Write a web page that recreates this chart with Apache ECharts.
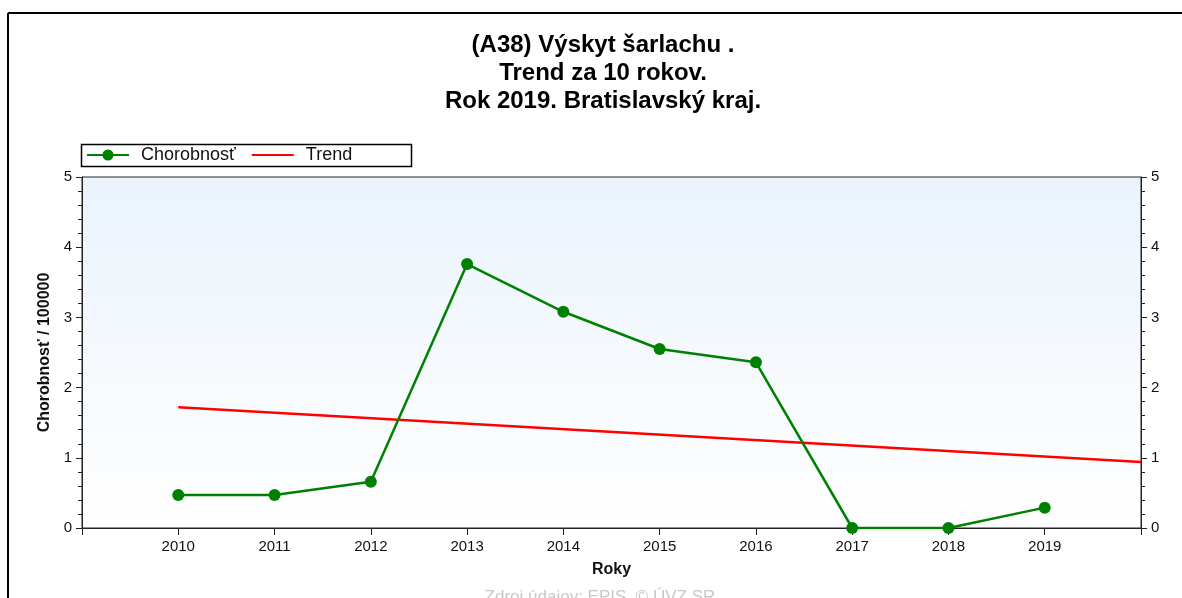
<!DOCTYPE html>
<html lang="sk">
<head>
    <meta charset="UTF-8">
    <title>Výskyt šarlachu</title>
    <style type="text/css">
        html, body { margin: 0; padding: 0; background: #fff; }
        #main { width: 1182px; height: 598px; }
    </style>
    <script src="https://cdn.jsdelivr.net/npm/echarts@6/dist/echarts.min.js"></script>
</head>
<body>
    <div id="main"></div>
    <script type="text/javascript">
        // data
        var titleLines = ['(A38) Výskyt šarlachu .', 'Trend za 10 rokov.', 'Rok 2019. Bratislavský kraj.'];
        var years = [2010, 2011, 2012, 2013, 2014, 2015, 2016, 2017, 2018, 2019];
        var chorobnost = [0.47, 0.47, 0.66, 3.76, 3.08, 2.55, 2.36, 0, 0, 0.29];
        var trendYears = [2010, 2020];
        var trendValues = [1.72, 0.94];
        var source = 'Zdroj údajov: EPIS, © ÚVZ SR';

        var font = '"Liberation Sans", Arial, sans-serif';
        var axisCol = '#222';

        var myChart = echarts.init(document.getElementById('main'));

        var yAxisBase = {
            type: 'value',
            min: 0,
            max: 5,
            interval: 1,
            axisLine: { show: true, lineStyle: { color: axisCol } },
            axisTick: { show: true, length: 6, lineStyle: { color: axisCol } },
            minorTick: { show: true, splitNumber: 5, length: 4, lineStyle: { color: axisCol } },
            splitLine: { show: false },
            axisLabel: { color: '#111', fontFamily: font, fontSize: 15, margin: 10 }
        };

        var option = {
            animation: false,
            grid: {
                left: 82, right: 41, top: 177, bottom: 70,
                show: true,
                borderColor: axisCol,
                borderWidth: 1,
                backgroundColor: {
                    type: 'linear', x: 0, y: 0, x2: 0, y2: 1,
                    colorStops: [
                        { offset: 0, color: '#eaf3fc' },
                        { offset: 1, color: '#ffffff' }
                    ]
                }
            },
            legend: {
                left: 81,
                top: 146,
                padding: [0, 5],
                itemWidth: 42,
                itemHeight: 14,
                itemGap: 15,
                textStyle: { color: '#111', fontFamily: font, fontSize: 18, padding: [0, 0, 0, 7] },
                data: [
                    { name: 'Chorobnosť' },
                    { name: 'Trend', itemStyle: { opacity: 0 } }
                ]
            },
            xAxis: [{
                type: 'value',
                min: 2009,
                max: 2020,
                interval: 1,
                name: 'Roky',
                nameLocation: 'middle',
                nameGap: 34,
                nameTextStyle: { color: '#111', fontFamily: font, fontSize: 16, fontWeight: 'bold' },
                axisLine: { show: true, lineStyle: { color: axisCol } },
                axisTick: { show: true, length: 6, lineStyle: { color: axisCol } },
                splitLine: { show: false },
                axisLabel: {
                    color: '#111', fontFamily: font, fontSize: 15, margin: 11,
                    showMinLabel: false, showMaxLabel: false,
                    formatter: function (v) { return (v > 2009 && v < 2020) ? String(v) : ''; }
                }
            }, {
                type: 'value',
                position: 'top',
                min: 2009,
                max: 2020,
                interval: 1,
                axisLine: { show: true, lineStyle: { color: axisCol } },
                axisTick: { show: true, inside: true, length: 7, lineStyle: { color: axisCol } },
                splitLine: { show: false },
                axisLabel: { show: false }
            }],
            yAxis: [
                Object.assign({}, yAxisBase, {
                    position: 'left',
                    name: 'Chorobnosť / 100000',
                    nameLocation: 'middle',
                    nameRotate: 90,
                    nameGap: 29,
                    nameTextStyle: { color: '#111', fontFamily: font, fontSize: 16, fontWeight: 'bold' }
                }),
                Object.assign({}, yAxisBase, { position: 'right' })
            ],
            series: [{
                name: 'Chorobnosť',
                type: 'line',
                data: years.map(function (y, i) { return [y, chorobnost[i]]; }),
                symbol: 'circle',
                symbolSize: 12,
                itemStyle: { color: '#008000' },
                lineStyle: { color: '#008000', width: 2.5 },
                z: 3
            }, {
                name: 'Trend',
                type: 'line',
                data: trendYears.map(function (y, i) { return [y, trendValues[i]]; }),
                symbol: 'none',
                itemStyle: { color: '#ff0000' },
                lineStyle: { color: '#ff0000', width: 2.5 },
                z: 2
            }],
            graphic: [
                { type: 'line', shape: { x1: 8, y1: 13, x2: 1182, y2: 13 }, style: { stroke: '#000', lineWidth: 2 } },
                { type: 'line', shape: { x1: 8, y1: 13, x2: 8, y2: 598 }, style: { stroke: '#000', lineWidth: 2 } },
                { type: 'rect', shape: { x: 81.5, y: 144.5, width: 330, height: 22 }, style: { fill: 'none', stroke: '#000', lineWidth: 1.5 } },
                {
                    type: 'text', x: 603, y: 31,
                    style: {
                        text: titleLines.join('\n'),
                        font: 'bold 24px ' + font, fill: '#000', textAlign: 'center', lineHeight: 28
                    }
                },
                {
                    type: 'text', x: 600, y: 589,
                    style: { text: source, font: '17px ' + font, fill: '#c8c8c8', textAlign: 'center' }
                }
            ]
        };
        myChart.setOption(option);
    </script>
</body>
</html>
